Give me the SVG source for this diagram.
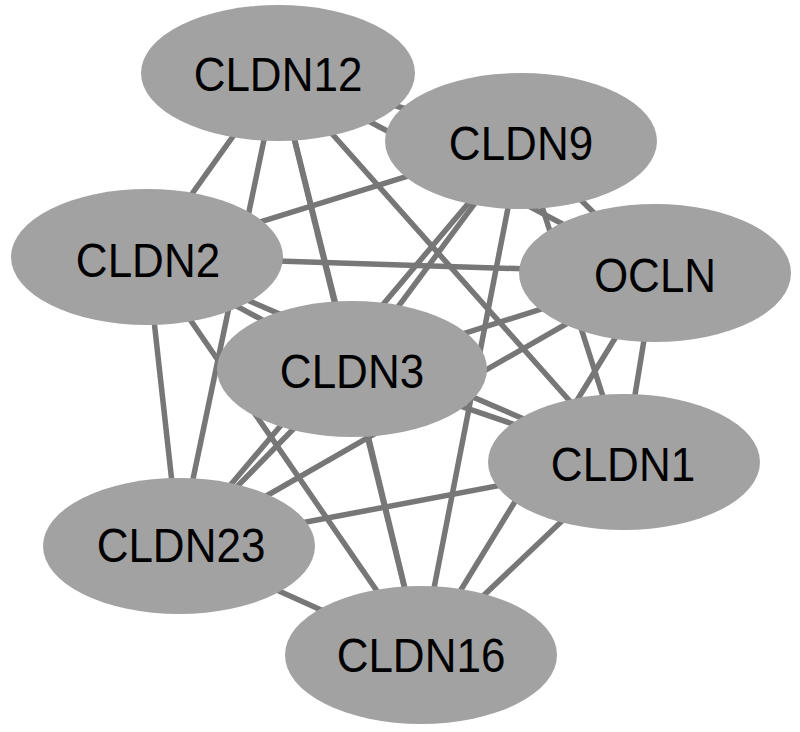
<svg xmlns="http://www.w3.org/2000/svg" width="800" height="732" viewBox="0 0 800 732">
<style>
.e{stroke:#777777;stroke-width:5.5;fill:none}
.n{fill:#a2a2a2}
.t{font-family:"Liberation Sans",Arial,sans-serif;font-size:44px;fill:#000;text-anchor:middle}
</style>
<rect width="800" height="732" fill="#ffffff"/>
<g id="edges" class="e">
<line x1="278" y1="73" x2="521" y2="141"/>
<line x1="278" y1="73" x2="147" y2="257"/>
<line x1="278" y1="73" x2="655" y2="273"/>
<line x1="278" y1="73" x2="352" y2="369"/>
<line x1="278" y1="73" x2="624" y2="462"/>
<line x1="278" y1="73" x2="179" y2="546"/>
<line x1="278" y1="73" x2="421" y2="655"/>
<line x1="521" y1="141" x2="147" y2="257"/>
<line x1="521" y1="141" x2="655" y2="273"/>
<line x1="521" y1="141" x2="352" y2="369"/>
<line x1="521" y1="141" x2="624" y2="462"/>
<line x1="521" y1="141" x2="179" y2="546"/>
<line x1="521" y1="141" x2="421" y2="655"/>
<line x1="147" y1="257" x2="655" y2="273"/>
<line x1="147" y1="257" x2="352" y2="369"/>
<line x1="147" y1="257" x2="624" y2="462"/>
<line x1="147" y1="257" x2="179" y2="546"/>
<line x1="147" y1="257" x2="421" y2="655"/>
<line x1="655" y1="273" x2="352" y2="369"/>
<line x1="655" y1="273" x2="624" y2="462"/>
<line x1="655" y1="273" x2="179" y2="546"/>
<line x1="655" y1="273" x2="421" y2="655"/>
<line x1="352" y1="369" x2="624" y2="462"/>
<line x1="352" y1="369" x2="179" y2="546"/>
<line x1="352" y1="369" x2="421" y2="655"/>
<line x1="624" y1="462" x2="179" y2="546"/>
<line x1="624" y1="462" x2="421" y2="655"/>
<line x1="179" y1="546" x2="421" y2="655"/>
</g>
<g id="CLDN12"><ellipse class="n" cx="278" cy="73" rx="137" ry="68"/><text class="t" transform="translate(278,91) scale(1,1.1)">CLDN12</text></g>
<g id="CLDN9"><ellipse class="n" cx="521" cy="141" rx="136" ry="68"/><text class="t" transform="translate(521,160) scale(1,1.1)">CLDN9</text></g>
<g id="CLDN2"><ellipse class="n" cx="147" cy="257" rx="136" ry="68"/><text class="t" transform="translate(148,277) scale(1,1.1)">CLDN2</text></g>
<g id="OCLN"><ellipse class="n" cx="655" cy="273" rx="136" ry="69"/><text class="t" transform="translate(655,292) scale(1,1.1)">OCLN</text></g>
<g id="CLDN3"><ellipse class="n" cx="352" cy="369" rx="135" ry="68"/><text class="t" transform="translate(352,388) scale(1,1.1)">CLDN3</text></g>
<g id="CLDN1"><ellipse class="n" cx="624" cy="462" rx="136" ry="68"/><text class="t" transform="translate(623,481) scale(1,1.1)">CLDN1</text></g>
<g id="CLDN23"><ellipse class="n" cx="179" cy="546" rx="136" ry="68"/><text class="t" transform="translate(181,562) scale(1,1.1)">CLDN23</text></g>
<g id="CLDN16"><ellipse class="n" cx="421" cy="655" rx="136" ry="69"/><text class="t" transform="translate(421,672) scale(1,1.1)">CLDN16</text></g>
</svg>
